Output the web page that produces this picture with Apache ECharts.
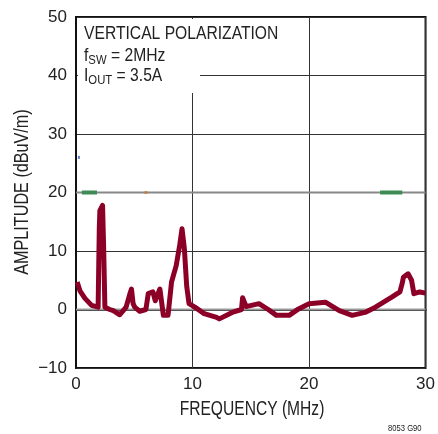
<!DOCTYPE html>
<html>
<head>
<meta charset="utf-8">
<script src="https://cdn.jsdelivr.net/npm/echarts@6/dist/echarts.min.js"></script>
<style>
  html, body { margin: 0; padding: 0; background: #fff; }
  #chart { width: 438px; height: 434px; }
</style>
</head>
<body>
<div id="chart"></div>
<script>
const FONT = '"Liberation Sans Narrow", "Liberation Sans", Arial, sans-serif';

// Radiated emissions trace (MHz, dBuV/m)
const freqMHz = [0.1, 0.34, 0.77, 1.34, 1.9, 2.0, 2.05, 2.28, 2.38, 2.48, 2.9, 3.2, 3.76, 4.3, 4.6, 4.76, 4.9, 5.04,
  5.47, 6.0, 6.2, 6.6, 6.8, 7.2, 7.5, 7.9, 8.2, 8.6, 8.9, 9.1, 9.3, 9.5, 9.7, 10.2, 11.0, 12.0, 12.3, 13.4,
  14.2, 14.3, 14.6, 15.7, 16.5, 17.2, 18.3, 19.1, 20.0, 21.4, 22.6, 23.7, 24.8, 25.7, 27.1, 27.8, 28.0, 28.1,
  28.5, 28.8, 29.0, 29.5, 30.0];
const amplitude = [4.7, 3.2, 1.9, 0.7, 0.4, 14, 16.9, 17.8, 10, 0.4, 0, -0.2, -0.9, 0.4, 2.5, 3.5, 1, 0.4,
  -0.3, 0, 2.7, 3.0, 1.5, 3.5, -1.0, -1.0, 4.7, 7.5, 11, 13.8, 10.4, 4, 1.0, 0.4, -0.7, -1.3, -1.6, -0.5,
  0, 2.0, 0.5, 1.0, 0, -1.0, -1.0, 0.1, 1.0, 1.25, -0.2, -1.0, -0.5, 0.4, 2.1, 3.0, 4.5, 5.5,
  6.1, 5.0, 2.7, 3.0, 2.8];

// stray limit marks seen on the plot
const greenLeft = [[0.5, 20], [1.8, 20]];
const greenRight = [[26.1, 20], [28.0, 20]];
const orangeDot = [[6.0, 20]];
const blueDot = [[0.25, 26]];

const xTicks = [0, 10, 20, 30];
const yTicks = [-10, 0, 10, 20, 30, 40, 50];

const chart = echarts.init(document.getElementById('chart'));

const SQUEEZE = 0.87;
const subText = (y, text) => ({
  type: 'text', z: 60, x: 84, y: y, scaleX: SQUEEZE,
  style: {
    text: text,
    rich: {
      m: { fontFamily: FONT, fontSize: 18, fill: '#222' },
      s: { fontFamily: FONT, fontSize: 13, fill: '#222', padding: [8, 0, 0, 0] }
    }
  }
});

const option = {
  animation: false,
  grid: {
    left: 76, right: 10, top: 17, bottom: 66,
    show: true, borderColor: '#111', borderWidth: 2
  },
  xAxis: {
    type: 'value',
    min: xTicks[0], max: xTicks[xTicks.length - 1], interval: 10,
    axisLine: { show: true, lineStyle: { color: '#111', width: 2 } },
    axisTick: { show: false },
    axisLabel: { fontFamily: FONT, fontSize: 17, color: '#222', margin: 8 },
    splitLine: { show: true, lineStyle: { color: '#333', width: 1 } }
  },
  yAxis: {
    type: 'value',
    min: yTicks[0], max: yTicks[yTicks.length - 1], interval: 10,
    axisLine: { show: true, lineStyle: { color: '#111', width: 2 } },
    axisTick: { show: false },
    axisLabel: {
      fontFamily: FONT, fontSize: 17, color: '#222', margin: 9,
      formatter: v => (v < 0 ? '\u2212' + Math.abs(v) : String(v))
    },
    splitLine: { show: true, lineStyle: { color: '#333', width: 1 } }
  },
  graphic: [
    { type: 'rect', z: 50, shape: { x: 78, y: 19, width: 212, height: 28 }, style: { fill: '#fff' } },
    { type: 'rect', z: 50, shape: { x: 78, y: 19, width: 122, height: 74 }, style: { fill: '#fff' } },
    {
      type: 'text', z: 60, x: 84, y: 25, scaleX: SQUEEZE,
      style: { text: 'VERTICAL POLARIZATION', fontFamily: FONT, fontSize: 18, fill: '#222' }
    },
    subText(46, '{m|f}{s|SW}{m| = 2MHz}'),
    subText(66, '{m|I}{s|OUT}{m| = 3.5A}'),
    {
      // x axis title
      type: 'text', x: 252, y: 410, scaleX: 0.8,
      style: {
        text: 'FREQUENCY (MHz)', fontFamily: FONT, fontSize: 19.5, fill: '#222',
        align: 'center', verticalAlign: 'middle'
      }
    },
    {
      // y axis title
      type: 'text', x: 23, y: 192, rotation: Math.PI / 2, scaleX: 0.83,
      style: {
        text: 'AMPLITUDE (dBuV/m)', fontFamily: FONT, fontSize: 19.5, fill: '#222',
        align: 'center', verticalAlign: 'middle'
      }
    },
    {
      type: 'text', x: 388, y: 424, scaleX: 0.85,
      style: { text: '8053 G90', fontFamily: FONT, fontSize: 9, fill: '#222' }
    }
  ],
  series: [
    {
      type: 'line', data: [[0, 0], [30, 0]], symbol: 'none', silent: true, z: 1,
      lineStyle: { color: '#999', width: 2 }
    },
    {
      type: 'line', data: [[0, 20], [30, 20]], symbol: 'none', silent: true, z: 1,
      lineStyle: { color: '#888', width: 2 }
    },
    {
      type: 'line', data: greenLeft, symbol: 'none', z: 3,
      lineStyle: { color: '#3d8c55', width: 4 }
    },
    {
      type: 'line', data: greenRight, symbol: 'none', z: 3,
      lineStyle: { color: '#3d8c55', width: 4 }
    },
    {
      type: 'scatter', data: orangeDot, symbol: 'rect', symbolSize: [3, 3], z: 3,
      itemStyle: { color: '#c87d3c' }
    },
    {
      type: 'scatter', data: blueDot, symbol: 'rect', symbolSize: [2, 3], z: 3,
      itemStyle: { color: '#3b5fc4' }
    },
    {
      type: 'line', symbol: 'none', z: 4,
      data: freqMHz.map((f, i) => [f, amplitude[i]]),
      lineStyle: { color: '#8c0028', width: 5, join: 'round' }
    }
  ]
};

chart.setOption(option);
</script>
</body>
</html>
